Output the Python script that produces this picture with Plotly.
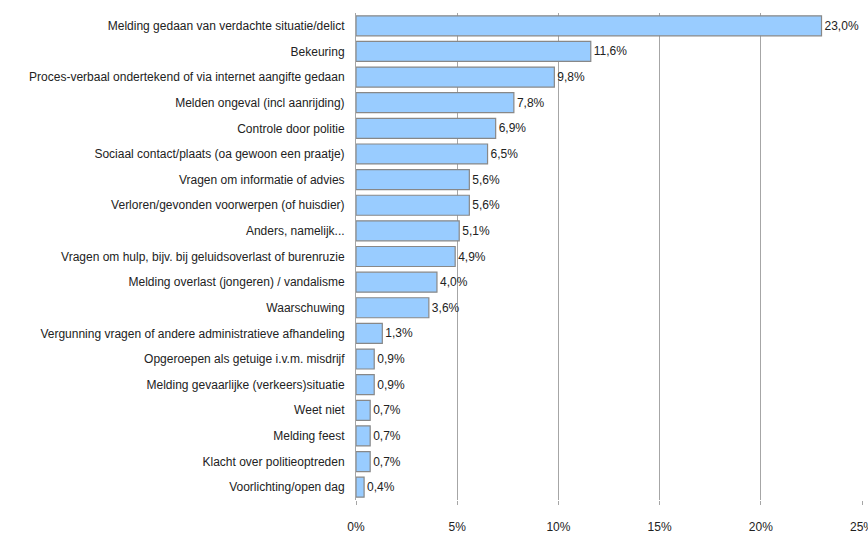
import plotly.graph_objects as go

categories = [
    "Melding gedaan van verdachte situatie/delict",
    "Bekeuring",
    "Proces-verbaal ondertekend of via internet aangifte gedaan",
    "Melden ongeval (incl aanrijding)",
    "Controle door politie",
    "Sociaal contact/plaats (oa gewoon een praatje)",
    "Vragen om informatie of advies",
    "Verloren/gevonden voorwerpen (of huisdier)",
    "Anders, namelijk...",
    "Vragen om hulp, bijv. bij geluidsoverlast of burenruzie",
    "Melding overlast (jongeren) / vandalisme",
    "Waarschuwing",
    "Vergunning vragen of andere administratieve afhandeling",
    "Opgeroepen als getuige i.v.m. misdrijf",
    "Melding gevaarlijke (verkeers)situatie",
    "Weet niet",
    "Melding feest",
    "Klacht over politieoptreden",
    "Voorlichting/open dag",
]
values = [23.0, 11.6, 9.8, 7.8, 6.9, 6.5, 5.6, 5.6, 5.1, 4.9, 4.0, 3.6, 1.3, 0.9, 0.9, 0.7, 0.7, 0.7, 0.4]
tick_vals = [0, 5, 10, 15, 20, 25]
tick_text = ["0%", "5%", "10%", "15%", "20%", "25%"]

labels = [f"{v:.1f}%".replace(".", ",") for v in values]

fig = go.Figure(go.Bar(
    x=values,
    y=categories,
    orientation="h",
    text=labels,
    textposition="outside",
    cliponaxis=False,
    marker=dict(color="#99CCFF", line=dict(color="#888888", width=1.2)),
    textfont=dict(size=12, color="#222222"),
    width=0.78,
))

fig.update_layout(
    width=868, height=535,
    margin=dict(l=356, r=6, t=13, b=35, autoexpand=False),
    plot_bgcolor="white", paper_bgcolor="white",
    font=dict(family="Liberation Sans, Arial", size=12, color="#222222"),
    showlegend=False,
)
fig.update_xaxes(
    range=[0, 25], tickvals=tick_vals, ticktext=tick_text,
    showgrid=True, gridcolor="#A6A6A6", gridwidth=1,
    zeroline=False, showline=False, automargin=False,
    ticks="outside", ticklen=4, tickcolor="#A6A6A6",
    ticklabelstandoff=12, ticklabeloverflow="allow",
)
fig.update_yaxes(
    autorange="reversed", showline=True, linecolor="#A6A6A6",
    ticks="", ticklabelstandoff=8, showgrid=False, automargin=False,
)

# page has an 8px default body margin; drop it so the figure fills the window
fig.write_html("out.html", config={"displayModeBar": False},
               post_script="document.body.style.margin='0';")
